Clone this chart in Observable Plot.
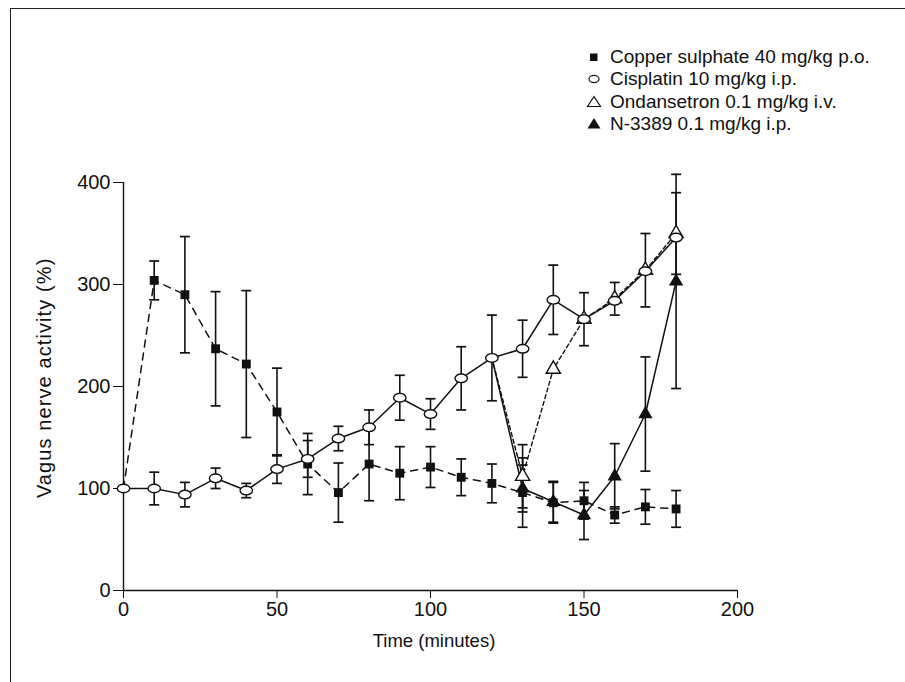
<!DOCTYPE html>
<html>
<head>
<meta charset="utf-8">
<script src="https://cdn.jsdelivr.net/npm/d3@7"></script>
<script src="https://cdn.jsdelivr.net/npm/@observablehq/plot@0.6"></script>
<style>
  html, body { margin: 0; padding: 0; background: #fff; }
  #wrap { position: relative; width: 905px; height: 682px; overflow: hidden; font-family: "Liberation Sans", Arial, sans-serif; }
  #frameTop { position: absolute; left: 10px; top: 8px; width: 900px; height: 0; border-top: 1.5px solid #222; }
  #frameLeft { position: absolute; left: 10px; top: 8px; width: 0; height: 690px; border-left: 1.5px solid #222; }
  #legend { position: absolute; left: 584px; top: 46px; font-size: 19px; color: #111; }
  #legend .row { height: 22.3px; display: flex; align-items: center; white-space: nowrap; }
  #legend svg { width: 20px; height: 20px; margin-right: 6px; }
</style>
</head>
<body>
<div id="wrap">
  <div id="chart"></div>
  <div id="frameTop"></div>
  <div id="frameLeft"></div>
  <div id="legend"></div>
</div>
<script>
// ---- Data ----
const times = [0,10,20,30,40,50,60,70,80,90,100,110,120,130,140,150,160,170,180];
const copperValues = [100,304,290,237,222,175,124,96,124,115,121,111,105,96,86,88,74,82,80];
const copperErr    = [null,19,57,56,72,43,30,29,36,26,20,18,19,34,20,18,8,17,18];
const cisplatinValues = [100,100,94,110,98,119,129,149,160,189,173,208,228,237,285,266,284,313,346];
const cisplatinErr    = [null,16,12,10,7,14,18,12,17,22,15,31,42,28,34,26,null,null,null];
const drugTimes = [120,130,140,150,160,170,180];
const ondansetronValues = [228,112,217,266,286,314,350];
const ondansetronErr    = [null,31,null,null,16,36,40];
const n3389Values = [228,100,87,74,112,173,303];
const n3389Err    = [null,23,20,24,32,56,105];
const legendLabels = [
  "Copper sulphate 40 mg/kg p.o.",
  "Cisplatin 10 mg/kg i.p.",
  "Ondansetron 0.1 mg/kg i.v.",
  "N-3389 0.1 mg/kg i.p."
];
const xLabel = "Time (minutes)";
const yLabel = "Vagus nerve activity (%)";
const xTicks = [0,50,100,150,200];
const yTicks = [0,100,200,300,400];

// ---- Build tables ----
const mk = (ts, vs, es, series) => ts.map((t,i) => ({t, v: vs[i], e: es[i], series, first: i === 0}));
const copper = mk(times, copperValues, copperErr, "copper");
const cis = mk(times, cisplatinValues, cisplatinErr, "cis");
const ond = mk(drugTimes, ondansetronValues, ondansetronErr, "ond");
const n33 = mk(drugTimes, n3389Values, n3389Err, "n33");
const all = [...copper, ...cis, ...ond, ...n33];
const errs = all.filter(d => d.e != null);

// custom symbols
const ellipse = {draw(ctx, size){
  const r = Math.sqrt(size/Math.PI), rx = r*1.45, ry = r, k = 0.5523;
  ctx.moveTo(rx,0);
  ctx.bezierCurveTo(rx, ry*k, rx*k, ry, 0, ry);
  ctx.bezierCurveTo(-rx*k, ry, -rx, ry*k, -rx, 0);
  ctx.bezierCurveTo(-rx, -ry*k, -rx*k, -ry, 0, -ry);
  ctx.bezierCurveTo(rx*k, -ry, rx, -ry*k, rx, 0);
  ctx.closePath();
}};
const cap = {draw(ctx, size){ ctx.moveTo(-5,0); ctx.lineTo(5,0); }};

const ink = "#111";
const plot = Plot.plot({
  width: 905, height: 682,
  marginLeft: 123, marginRight: 168, marginTop: 182, marginBottom: 92,
  style: {fontFamily: "'Liberation Sans', Arial, sans-serif", fontSize: "20px", color: ink, background: "transparent"},
  x: {domain: [0,200]},
  y: {domain: [0,400]},
  marks: [
    Plot.ruleY([0], {x1: 0, x2: 200, stroke: ink, strokeWidth: 1.4}),
    Plot.ruleX([0], {y1: 0, y2: 400, stroke: ink, strokeWidth: 1.4}),
    Plot.axisX({ticks: xTicks, tickSize: 8, tickPadding: 3, label: null, stroke: ink}),
    Plot.axisY({ticks: yTicks, tickSize: 10, tickPadding: 3, label: null, stroke: ink}),
    // error bars
    Plot.ruleX(errs, {x: "t", y1: d => d.v - d.e, y2: d => d.v + d.e, stroke: ink, strokeWidth: 1.6}),
    Plot.dot(errs, {x: "t", y: d => d.v - d.e, symbol: cap, stroke: ink, strokeWidth: 1.7, fill: "none"}),
    Plot.dot(errs, {x: "t", y: d => d.v + d.e, symbol: cap, stroke: ink, strokeWidth: 1.7, fill: "none"}),
    // lines
    Plot.line(copper, {x: "t", y: "v", stroke: ink, strokeWidth: 1.5, strokeDasharray: "7,6"}),
    Plot.line(ond, {x: "t", y: "v", stroke: ink, strokeWidth: 1.4, strokeDasharray: "4,3"}),
    Plot.line(n33, {x: "t", y: "v", stroke: ink, strokeWidth: 1.5}),
    Plot.line(cis, {x: "t", y: "v", stroke: ink, strokeWidth: 1.5}),
    // markers
    Plot.dot(copper.filter(d => !d.first), {x: "t", y: "v", symbol: "square", r: 5, fill: ink, stroke: "none"}),
    Plot.dot(n33.filter(d => !d.first), {x: "t", y: "v", symbol: "triangle", r: 5.3, fill: ink, stroke: "none"}),
    Plot.dot(ond.filter(d => !d.first), {x: "t", y: "v", symbol: "triangle", r: 5.3, fill: "white", stroke: ink, strokeWidth: 1.4}),
    Plot.dot(cis, {x: "t", y: "v", symbol: ellipse, r: 4.3, fill: "white", stroke: ink, strokeWidth: 1.4})
  ]
});
document.getElementById("chart").appendChild(plot);

// axis titles, placed with the plot's own scales
const sx = plot.scale("x"), sy = plot.scale("y");
const svg = d3.select(plot);
svg.append("text")
  .attr("x", (sx.apply(0) + sx.apply(200)) / 2 + 4)
  .attr("y", sy.apply(0) + 57)
  .attr("text-anchor", "middle")
  .attr("font-size", 18.5)
  .attr("fill", ink)
  .text(xLabel);
svg.append("text")
  .attr("transform", `translate(${sx.apply(0) - 72},${sy.apply(208)}) rotate(-90)`)
  .attr("text-anchor", "middle")
  .attr("font-size", 20)
  .attr("letter-spacing", 1.1)
  .attr("fill", ink)
  .text(yLabel);

// legend
const legendSymbols = [
  '<rect x="6" y="6.5" width="7.5" height="7.5" fill="#111"/>',
  '<ellipse cx="10" cy="10" rx="5" ry="3.6" fill="white" stroke="#111" stroke-width="1.2"/>',
  '<path d="M10,4.5 L16.5,14.5 L3.5,14.5 Z" fill="white" stroke="#111" stroke-width="1.2"/>',
  '<path d="M10,4 L16.5,14.5 L3.5,14.5 Z" fill="#111"/>'
];
const leg = document.getElementById("legend");
legendLabels.forEach((lab, i) => {
  const row = document.createElement("div");
  row.className = "row";
  row.innerHTML = '<svg viewBox="0 0 20 20">' + legendSymbols[i] + '</svg><span>' + lab + '</span>';
  leg.appendChild(row);
});
</script>
</body>
</html>
